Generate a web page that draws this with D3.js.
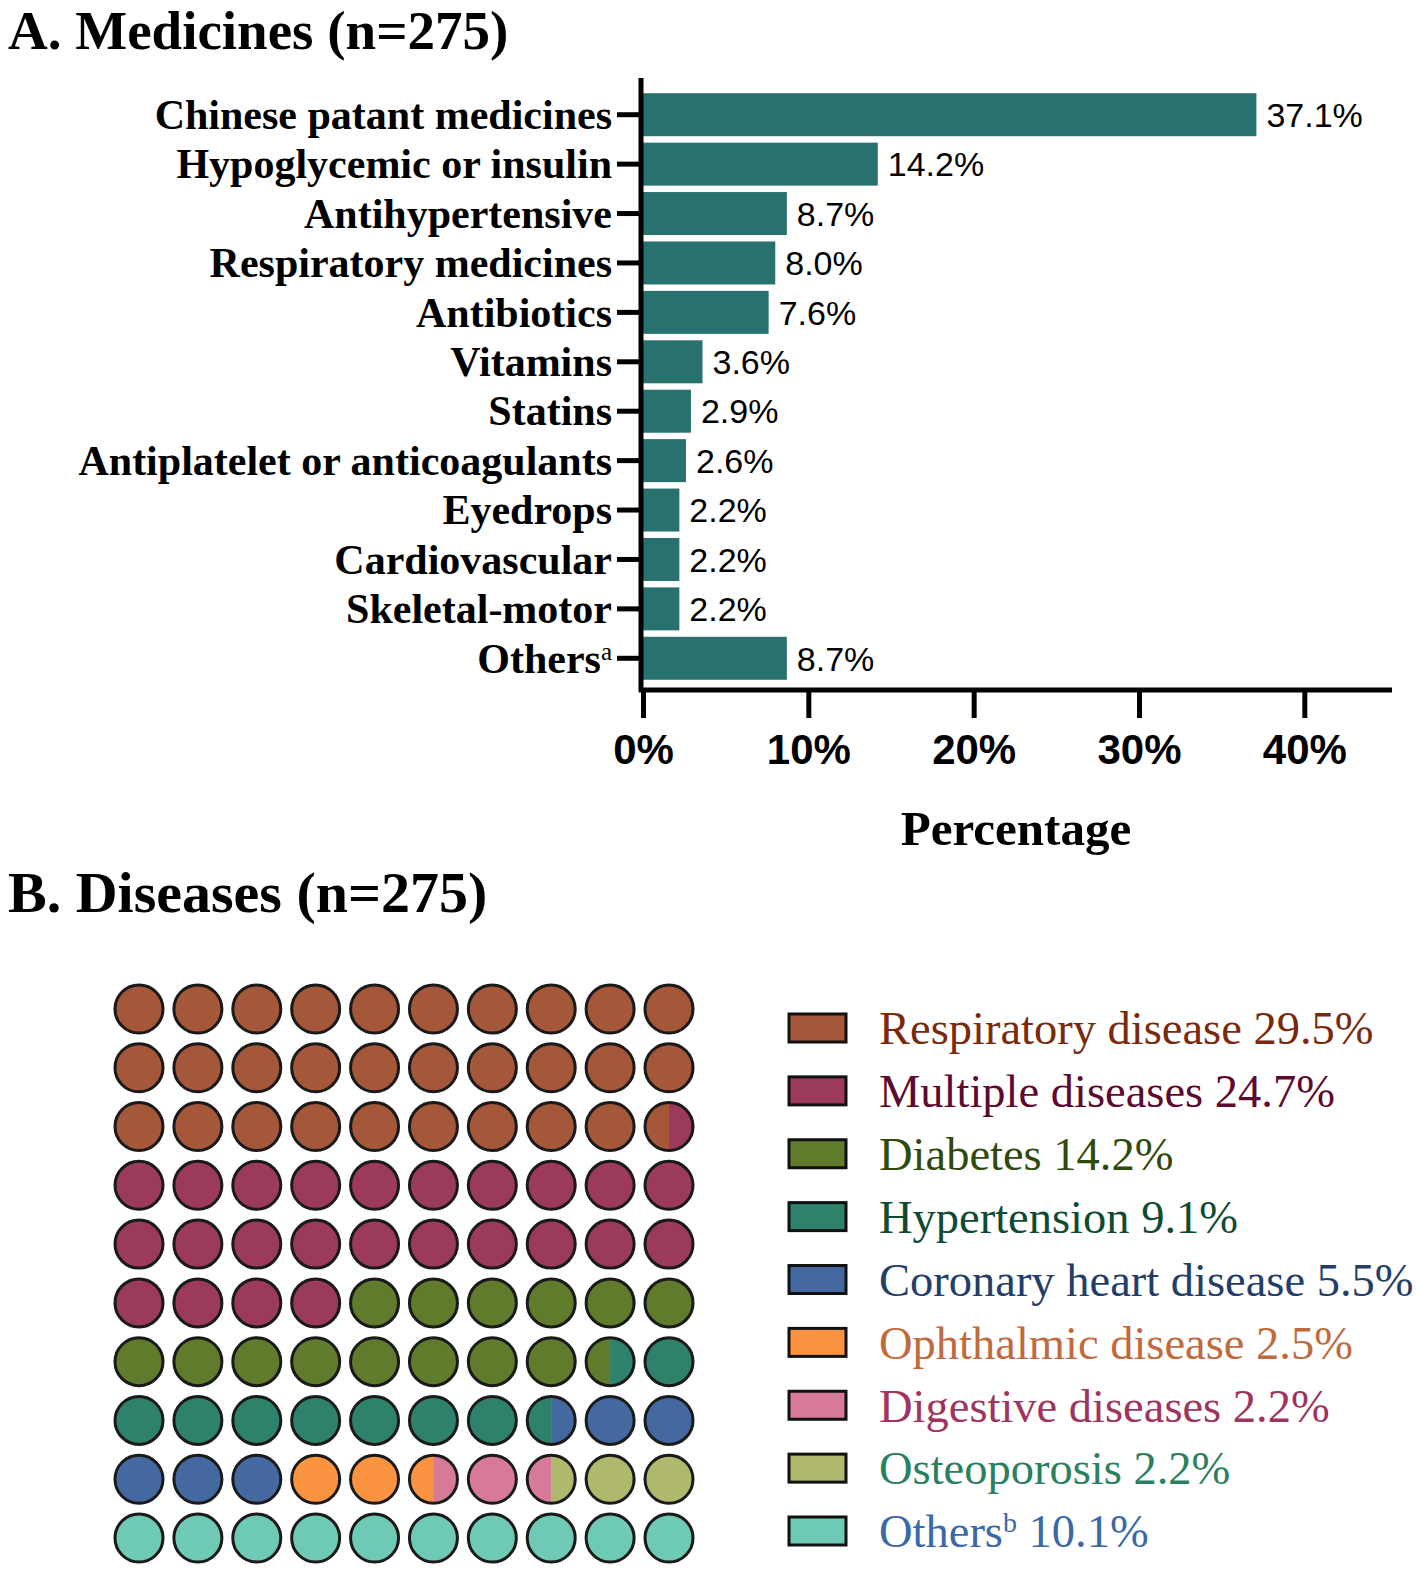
<!DOCTYPE html>
<html>
<head>
<meta charset="utf-8">
<script src="https://cdn.jsdelivr.net/npm/d3@7"></script>
<style>
	body { margin: 0; background: #fff; }
	svg { display: block; }
	.serif { font-family: "Liberation Serif", "Times New Roman", serif; }
	.sans { font-family: "Liberation Sans", Arial, sans-serif; }
</style>
</head>
<body>
<svg id="chart" width="1417" height="1575"></svg>
<script>
'use strict';

// Panel A: medicines
var medicines = [
	'Chinese patant medicines', 'Hypoglycemic or insulin', 'Antihypertensive',
	'Respiratory medicines', 'Antibiotics', 'Vitamins', 'Statins',
	'Antiplatelet or anticoagulants', 'Eyedrops', 'Cardiovascular',
	'Skeletal-motor', 'Others'
];
var medicineValues = [37.1, 14.2, 8.7, 8.0, 7.6, 3.6, 2.9, 2.6, 2.2, 2.2, 2.2, 8.7];
var percentTicks = [0, 10, 20, 30, 40];

// Panel B: diseases
var diseases = [
	'Respiratory disease', 'Multiple diseases', 'Diabetes', 'Hypertension',
	'Coronary heart disease', 'Ophthalmic disease', 'Digestive diseases',
	'Osteoporosis', 'Others'
];
var diseaseValues = [29.5, 24.7, 14.2, 9.1, 5.5, 2.5, 2.2, 2.2, 10.1];
var diseaseFills = [
	'#a5573a', '#9c3a5e', '#617b2c', '#2e816a', '#4469a0',
	'#fb9440', '#d67a98', '#b0b86c', '#6ecab4'
];
var diseaseText = [
	'#7a2a0c', '#5c0a30', '#2f4a0a', '#0f4a32', '#243e6a',
	'#c06a40', '#a03460', '#2a8060', '#3a68a8'
];

var svg = d3.select('#chart');

/* ---------- A. bar chart ---------- */
svg.append('text')
	.attr('class', 'serif')
	.attr('x', 8).attr('y', 49)
	.style('font-size', '55px').style('font-weight', 'bold')
	.text('A. Medicines (n=275)');

var x = d3.scaleLinear().domain([0, 45]).range([643, 1387]);
var y = d3.scaleBand()
	.domain(medicines)
	.range([90, 683])
	.paddingInner(0.13)
	.paddingOuter(0.065);

var barG = svg.append('g');
barG.selectAll('rect')
	.data(medicineValues)
	.enter().append('rect')
	.attr('x', x(0))
	.attr('y', function(d, i) { return y(medicines[i]); })
	.attr('width', function(d) { return x(d) - x(0); })
	.attr('height', y.bandwidth())
	.attr('fill', '#29716e');

barG.selectAll('text')
	.data(medicineValues)
	.enter().append('text')
	.attr('class', 'sans')
	.attr('x', function(d) { return x(d) + 10; })
	.attr('y', function(d, i) { return y(medicines[i]) + y.bandwidth() / 2; })
	.attr('dy', '0.36em')
	.style('font-size', '34px')
	.text(function(d) { return d.toFixed(1) + '%'; });

// y axis
var yAxis = svg.append('g')
	.attr('transform', 'translate(641,0)')
	.call(d3.axisLeft(y).tickSize(24).tickSizeOuter(0).tickPadding(5));
yAxis.select('.domain').remove();
yAxis.selectAll('.tick line').attr('stroke', '#000').attr('stroke-width', 5);
yAxis.selectAll('.tick text')
	.attr('class', 'serif')
	.attr('fill', '#000')
	.attr('dy', '0.34em')
	.style('font-size', '42px')
	.style('font-weight', 'bold')
	.each(function(d) {
		if(d === 'Others') {
			var t = d3.select(this).text('Others');
			t.append('tspan')
				.attr('baseline-shift', 'super')
				.style('font-size', '25px')
				.style('font-weight', 'normal')
				.text('a');
		}
	});

// x axis
var xAxis = svg.append('g')
	.attr('transform', 'translate(0,690)')
	.call(d3.axisBottom(x)
		.tickValues(percentTicks)
		.tickSize(28)
		.tickSizeOuter(0)
		.tickPadding(16)
		.tickFormat(function(d) { return d + '%'; }));
xAxis.select('.domain').remove();
xAxis.selectAll('.tick line').attr('stroke', '#000').attr('stroke-width', 5);
xAxis.selectAll('.tick text')
	.attr('class', 'sans')
	.attr('fill', '#000')
	.style('font-size', '42px')
	.style('font-weight', 'bold');

svg.append('line')
	.attr('x1', 641).attr('x2', 641).attr('y1', 78).attr('y2', 692)
	.attr('stroke', '#000').attr('stroke-width', 5);
svg.append('line')
	.attr('x1', 639).attr('x2', 1392).attr('y1', 690).attr('y2', 690)
	.attr('stroke', '#000').attr('stroke-width', 5);

svg.append('text')
	.attr('class', 'serif')
	.attr('x', 1016).attr('y', 845)
	.attr('text-anchor', 'middle')
	.style('font-size', '49px').style('font-weight', 'bold')
	.text('Percentage');

/* ---------- B. waffle ---------- */
svg.append('text')
	.attr('class', 'serif')
	.attr('x', 8).attr('y', 912)
	.style('font-size', '58px').style('font-weight', 'bold')
	.text('B. Diseases (n=275)');

// category boundaries in cells, cumulative rounded to half a cell
var bounds = [];
var cum = 0;
diseaseValues.forEach(function(v, i) {
	var start = bounds.length ? bounds[i - 1].end : 0;
	cum += v;
	bounds.push({ start: start, end: Math.round(cum * 2) / 2, k: i });
});

var col = d3.scaleLinear().domain([0, 9]).range([139, 669]);
var row = d3.scaleLinear().domain([0, 9]).range([1009, 1538]);
var r = 24;

svg.append('defs').append('clipPath')
	.attr('id', 'cell-clip')
	.append('circle')
	.attr('r', r);

var cells = svg.append('g').selectAll('g')
	.data(d3.range(100))
	.enter().append('g')
	.attr('transform', function(i) {
		return 'translate(' + col(i % 10) + ',' + row(Math.floor(i / 10)) + ')';
	});

cells.append('g')
	.attr('clip-path', 'url(#cell-clip)')
	.selectAll('rect')
	.data(function(i) {
		return bounds
			.filter(function(b) { return b.start < i + 1 && b.end > i; })
			.map(function(b) {
				return {
					a: Math.max(b.start, i) - i,
					b: Math.min(b.end, i + 1) - i,
					k: b.k
				};
			});
	})
	.enter().append('rect')
	.attr('x', function(s) { return -r + s.a * 2 * r; })
	.attr('width', function(s) { return (s.b - s.a) * 2 * r + 0.5; })
	.attr('y', -r)
	.attr('height', 2 * r)
	.attr('fill', function(s) { return diseaseFills[s.k]; });

cells.append('circle')
	.attr('r', r)
	.attr('fill', 'none')
	.attr('stroke', '#1a1a1a')
	.attr('stroke-width', 3);

// legend
var ly = d3.scalePoint().domain(diseases).range([1028, 1531]);
var legend = svg.append('g').selectAll('g')
	.data(diseases)
	.enter().append('g')
	.attr('transform', function(d) { return 'translate(0,' + ly(d) + ')'; });

legend.append('rect')
	.attr('x', 789).attr('y', -14)
	.attr('width', 57).attr('height', 28)
	.attr('fill', function(d, i) { return diseaseFills[i]; })
	.attr('stroke', '#111').attr('stroke-width', 3);

legend.append('text')
	.attr('class', 'serif')
	.attr('x', 879)
	.attr('dy', '0.35em')
	.style('font-size', '46.5px')
	.attr('fill', function(d, i) { return diseaseText[i]; })
	.each(function(d, i) {
		var t = d3.select(this);
		var pct = ' ' + diseaseValues[i].toFixed(1) + '%';
		if(d === 'Others') {
			t.append('tspan').text('Others');
			t.append('tspan')
				.attr('baseline-shift', 'super')
				.style('font-size', '28px')
				.text('b');
			t.append('tspan').text(pct);
		}
		else {
			t.text(d + pct);
		}
	});
</script>
</body>
</html>
